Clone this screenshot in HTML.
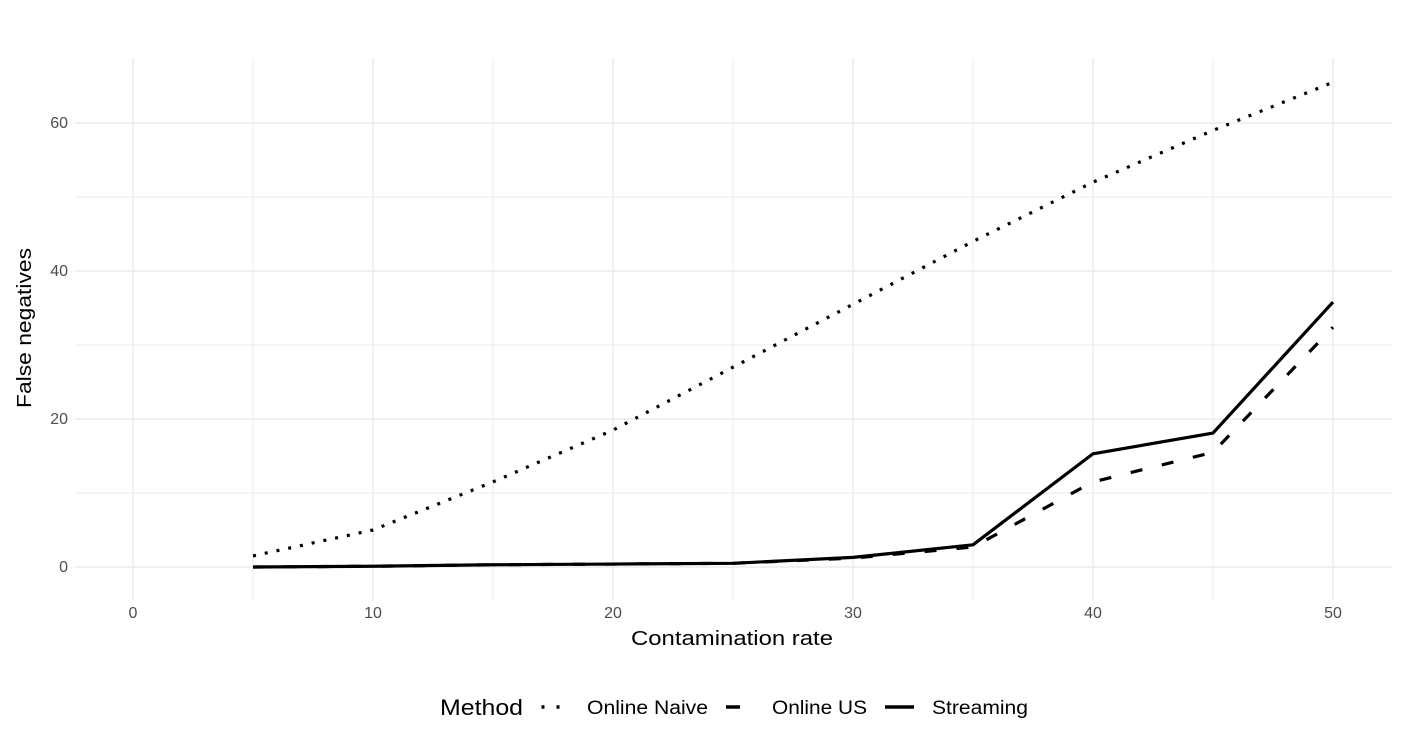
<!DOCTYPE html>
<html><head><meta charset="utf-8"><style>
body{margin:0;background:#fff;}
svg text{font-family:"Liberation Sans",Arial,sans-serif;}
</style></head><body>
<svg id="chart" width="1405" height="749" xmlns="http://www.w3.org/2000/svg">
<g id="grid"></g>
<g id="axes"></g>
<g id="series"></g>
<text x="631" y="645" font-size="20" textLength="202" lengthAdjust="spacingAndGlyphs" fill="#000">Contamination rate</text>
<text transform="translate(31,408) rotate(-90)" font-size="20" textLength="160" lengthAdjust="spacingAndGlyphs" fill="#000">False negatives</text>
<g>
<text x="440" y="715" font-size="22" textLength="83" lengthAdjust="spacingAndGlyphs" fill="#000">Method</text>
<line x1="541.5" y1="707" x2="560" y2="707" stroke="#000" stroke-width="3.5" stroke-dasharray="3,12"/>
<text x="587" y="714" font-size="19" textLength="121" lengthAdjust="spacingAndGlyphs">Online Naive</text>
<line x1="726" y1="707" x2="740" y2="707" stroke="#000" stroke-width="3.5"/>
<text x="772" y="714" font-size="19" textLength="95" lengthAdjust="spacingAndGlyphs">Online US</text>
<line x1="885" y1="707" x2="914" y2="707" stroke="#000" stroke-width="3.5"/>
<text x="932" y="714" font-size="19" textLength="96" lengthAdjust="spacingAndGlyphs">Streaming</text>
</g>
</svg>
<script>
const xs = [5,10,15,20,25,30,35,40,45,50];
const naive = [1.5,5,11.5,18.5,27,35.5,44,52,59,65.5];
const us = [0,0.1,0.3,0.4,0.5,1.2,2.7,11.5,15.5,32.4];
const streaming = [0,0.1,0.3,0.4,0.5,1.3,3,15.3,18.1,35.8];
const xTicks = [0,10,20,30,40,50];
const yTicks = [0,20,40,60];
const sx = v => 133 + v*24;
const sy = v => 567 - v*7.4;
const NS='http://www.w3.org/2000/svg';
function mk(tag, attrs, parent){const e=document.createElementNS(NS,tag);for(const k in attrs)e.setAttribute(k,attrs[k]);parent.appendChild(e);return e;}
const grid=document.getElementById('grid'), axes=document.getElementById('axes'), ser=document.getElementById('series');
for(let v=0; v<=50; v+=5){
  const l=mk('line',{x1:sx(v),x2:sx(v),y1:58,y2:600,stroke:'#ebebeb','stroke-width':v%10?1:1.5},grid);
  
  
}
for(let v=0; v<=65; v+=10){
  const l=mk('line',{x1:75,x2:1392,y1:sy(v),y2:sy(v),stroke:'#ebebeb','stroke-width':v%20?1:1.5},grid);
  
  
}
xTicks.forEach(v=>{
  const t=mk('text',{x:sx(v),y:618,'font-size':16,'text-anchor':'middle',fill:'#4d4d4d'},axes);t.textContent=v;
  
  
});
yTicks.forEach(v=>{
  const t=mk('text',{x:68,y:sy(v)+5,'font-size':16,'text-anchor':'end',fill:'#4d4d4d'},axes);t.textContent=v;
  
  
});
function line(vals,dash,name){
  const d=vals.map((v,i)=>(i?'L':'M')+sx(xs[i])+','+sy(v)).join(' ');
  const p=mk('path',{d:d,fill:'none',stroke:'#000','stroke-width':3.2,'stroke-dasharray':dash,'stroke-linejoin':'round'},ser);
  
  
}
line(naive,'3,9','line-online-naive');
line(us,'12,20','line-online-us');
line(streaming,'none','line-streaming');
</script>
</body></html>
